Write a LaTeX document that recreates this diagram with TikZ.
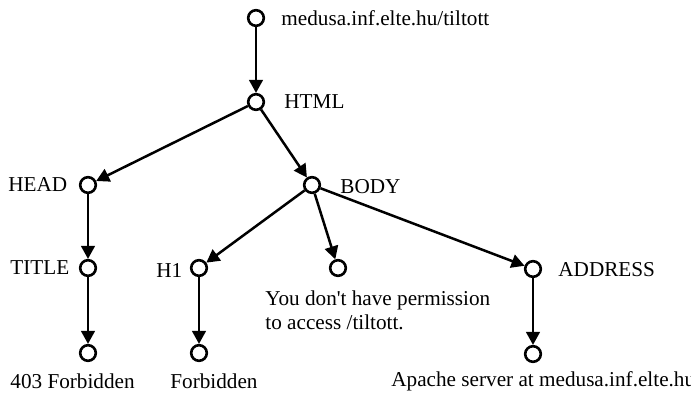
\documentclass[tikz,border=0pt]{standalone}
\usepackage{fontspec}
\setmainfont{Liberation Serif}
\usetikzlibrary{arrows.meta}
\tikzset{
	csucs/.style={draw, circle, line width=1.3pt, minimum size=7.8pt, inner sep=0pt},
	el/.style={line width=1.25pt, -{Triangle[length=6.5pt,width=6.8pt]}},
	felirat/.style={anchor=west, inner sep=0pt, font=\fontsize{10.6}{12}\selectfont}
}

\begin{document}
\begin{tikzpicture}[x=0.5pt, y=-0.5pt]
				\useasboundingbox (0,0) rectangle (691,393);
				\clip (0,0) rectangle (691,393);
				\node[csucs] (gyoker) at (256,18) {};
				\node[csucs] (html) at (256,102) {};
				\node[csucs] (head) at (88,185) {};
				\node[csucs] (body) at (312,185) {};
				\node[csucs] (title) at (88,268) {};
				\node[csucs] (h1) at (199,268) {};
				\node[csucs] (szoveg) at (338,268) {};
				\node[csucs] (address) at (533,269) {};
				\node[csucs] (tiltva) at (88,353) {};
				\node[csucs] (tiltva2) at (199,353) {};
				\node[csucs] (apache) at (533,354) {};
				\draw[el] (gyoker) -- (html);
				\draw[el] (html) -- (head);
				\draw[el] (html) -- (body);
				\draw[el] (head) -- (title);
				\draw[el] (title) -- (tiltva);
				\draw[el] (body) -- (h1);
				\draw[el] (body) -- (szoveg);
				\draw[el] (body) -- (address);
				\draw[el] (h1) -- (tiltva2);
				\draw[el] (address) -- (apache);
				\node[felirat] (gyokerf) at (281,18) {medusa.inf.elte.hu/tiltott};
				\node[felirat] (htmlf) at (284,102) {HTML};
				\node[felirat] (headf) at (8,185) {HEAD};
				\node[felirat] (bodyf) at (340,187) {BODY};
				\node[felirat] (titlef) at (10,268) {TITLE};
				\node[felirat] (h1f) at (156,270) {H1};
				\node[felirat] (addressf) at (558,270) {ADDRESS};
				\node[felirat, align=left] (szovegf) at (265,310) {You don\textquotesingle t have permission\\to access /tiltott.};
				\node[felirat] (tiltvaf) at (10,381) {403 Forbidden};
				\node[felirat] (tiltva2f) at (170,381) {Forbidden};
				\node[felirat] (apachef) at (391,381) {Apache server at medusa.inf.elte.hu};
			\end{tikzpicture}
\end{document}
